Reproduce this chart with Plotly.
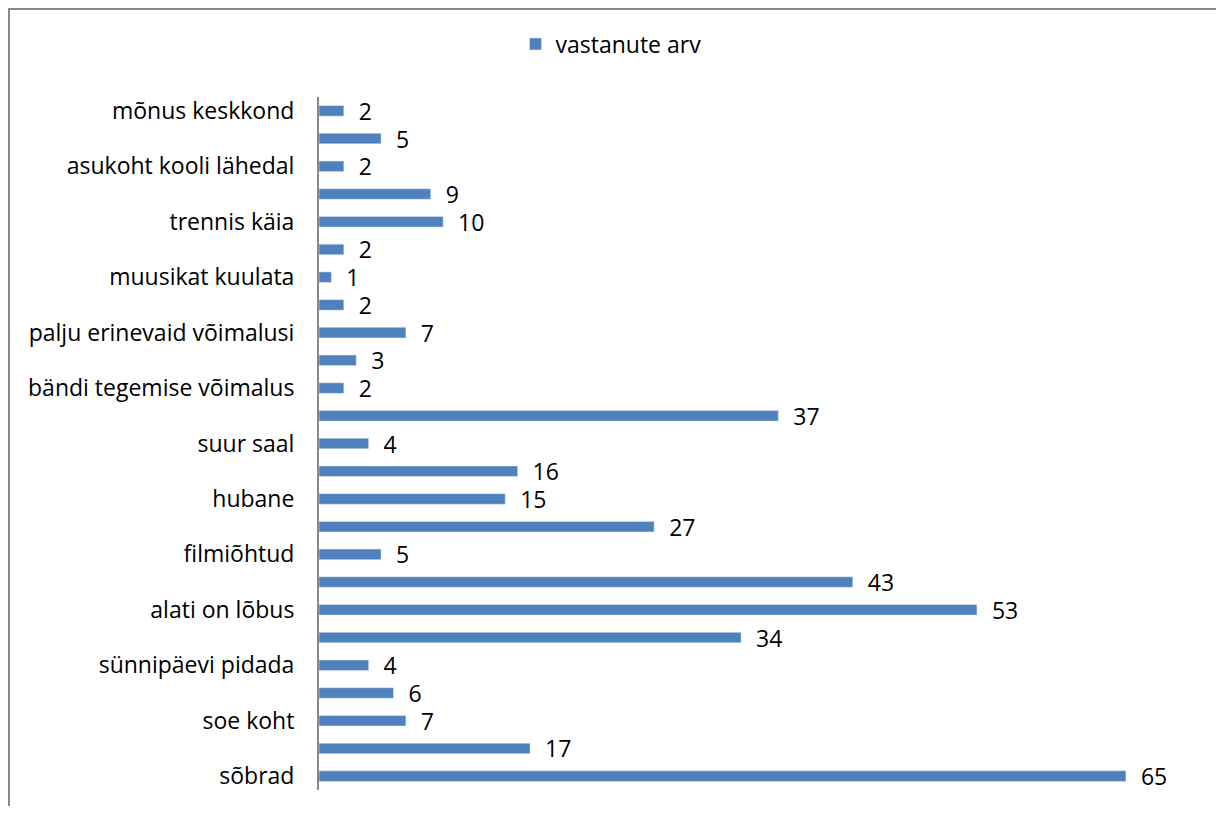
import plotly.graph_objects as go

# bottom-to-top order
values = [65, 17, 7, 6, 4, 34, 53, 43, 5, 27, 15, 16, 4, 37, 2, 3, 7, 2, 1, 2, 10, 9, 2, 5, 2]
tick_labels = ["sõbrad", "", "soe koht", "", "sünnipäevi pidada", "", "alati on lõbus", "",
               "filmiõhtud", "", "hubane", "", "suur saal", "", "bändi tegemise võimalus", "",
               "palju erinevaid võimalusi", "", "muusikat kuulata", "", "trennis käia", "",
               "asukoht kooli lähedal", "", "mõnus keskkond"]
series_name = "vastanute arv"
positions = list(range(len(values)))

FONT = "Open Sans"
FS = 23

fig = go.Figure()
fig.add_trace(go.Bar(
    x=values, y=positions, orientation="h", name=series_name,
    marker=dict(color="#4F81BD"),
    text=[f"  {v}" for v in values], textposition="outside", cliponaxis=False,
    constraintext="none",
    textfont=dict(size=FS, color="black", family=FONT),
    showlegend=True,
))

W, H = 1208, 798
L, T = 311, 89
R = W - 1180
B = H - 782
pw, ph = W - L - R, H - T - B

fig.update_layout(
    width=W, height=H,
    margin=dict(l=L, r=R, t=T, b=B),
    paper_bgcolor="white", plot_bgcolor="white",
    font=dict(family=FONT, size=FS, color="black"),
    bargap=0.62,
    showlegend=True,
    legend=dict(orientation="h", x=(603 - L) / pw, xanchor="center", y=(H - B - 36) / ph,
                yanchor="middle", font=dict(size=FS, family=FONT), itemwidth=30),
    xaxis=dict(range=[0, 70], visible=False, showgrid=False, zeroline=False),
    yaxis=dict(range=[-0.5, 24.5], tickmode="array", tickvals=positions, ticktext=tick_labels,
               showgrid=False, zeroline=False, showline=True, linecolor="#888888", linewidth=2,
               ticks="", ticklabelstandoff=18, tickfont=dict(size=FS, family=FONT)),
    shapes=[dict(type="rect", xref="paper", yref="paper",
                 x0=(1 - L) / pw, x1=(1209 - L) / pw,
                 y0=-0.2, y1=(H - B - 1) / ph,
                 line=dict(color="#888888", width=2), fillcolor="rgba(0,0,0,0)", layer="below")],
)

fig.write_html("out.html")
